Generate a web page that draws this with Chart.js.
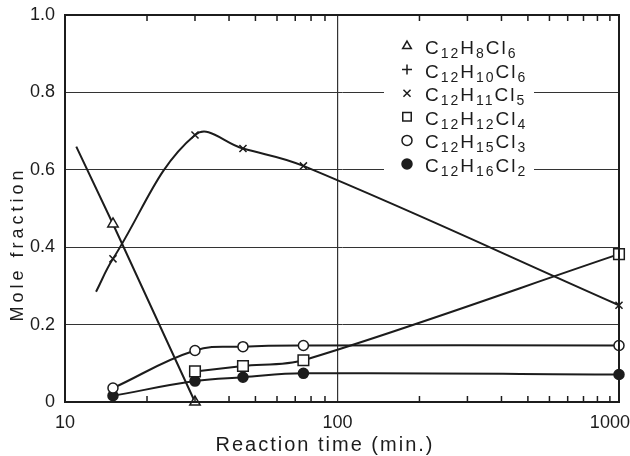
<!DOCTYPE html>
<html>
<head>
<meta charset="utf-8">
<script src="https://cdn.jsdelivr.net/npm/chart.js@4.4.1/dist/chart.umd.min.js"></script>
<style>
html, body { margin: 0; padding: 0; background: #fff; }
#wrap { width: 630px; height: 456px; }
</style>
</head>
<body>
<div id="wrap"><canvas id="chart"></canvas></div>
<script>
// reaction time (min.) per series
const timesTri = [11, 15, 30];
const timesX = [13, 15, 30, 45, 75, 1080];
const timesSq = [30, 45, 75, 1080];
const times = [15, 30, 45, 75, 1080];

// mole fractions
const c12h8cl6 = [0.66, 0.46, 0];
const c12h10cl6 = [];
const c12h11cl5 = [0.285, 0.37, 0.69, 0.655, 0.61, 0.25];
const c12h12cl4 = [0.079, 0.093, 0.108, 0.382];
const c12h15cl3 = [0.036, 0.133, 0.143, 0.146, 0.146];
const c12h16cl2 = [0.016, 0.054, 0.064, 0.074, 0.071];

const xTicks = [10, 100, 1000];
const minorTicks = [20, 30, 40, 50, 60, 70, 80, 90, 200, 300, 400, 500, 600, 700, 800, 900, 1000];
const yTicks = [0, 0.2, 0.4, 0.6, 0.8, 1.0];

const ink = '#1c1c1c';
const fontFam = '"Liberation Sans", Arial, sans-serif';

const pts = (xs, ys) => ys.map((y, i) => ({ x: xs[i], y: y }));

function series(label, data, style, radius, fill, tension) {
    return {
        label: label,
        data: data,
        borderColor: ink,
        borderWidth: 2,
        pointStyle: style,
        pointRadius: radius,
        pointBorderWidth: 1.5,
        pointBorderColor: ink,
        pointBackgroundColor: fill,
        tension: tension,
        clip: false
    };
}

// white patch behind the legend, legend with subscripts, frame, minor ticks, axis titles
const decorations = {
    id: 'decorations',
    beforeDatasetsDraw(chart) {
        const ctx = chart.ctx;
        ctx.save();
        ctx.fillStyle = '#fff';
        ctx.fillRect(384, 30, 150, 150);
        ctx.restore();
    },
    afterDraw(chart) {
        const ctx = chart.ctx;
        const area = chart.chartArea;
        const x = chart.scales.x;
        ctx.save();

        // frame
        ctx.strokeStyle = ink;
        ctx.lineWidth = 2;
        ctx.strokeRect(area.left, area.top, area.right - area.left, area.bottom - area.top);

        // minor ticks, inward, top and bottom
        ctx.lineWidth = 1.5;
        ctx.beginPath();
        minorTicks.forEach(v => {
            const px = x.getPixelForValue(v);
            ctx.moveTo(px, area.bottom);
            ctx.lineTo(px, area.bottom - 6);
            ctx.moveTo(px, area.top);
            ctx.lineTo(px, area.top + 6);
        });
        ctx.stroke();

        // legend
        chart.data.datasets.forEach((ds, i) => {
            const y = 46 + i * 23.6;
            ctx.fillStyle = ds.pointBackgroundColor;
            ctx.strokeStyle = ink;
            ctx.lineWidth = 1.5;
            Chart.helpers.drawPoint(ctx, {
                pointStyle: ds.pointStyle,
                radius: ds.pointStyle === 'rect' ? 6 : 5,
                borderWidth: 1.5
            }, 407, y);

            let tx = 425;
            ctx.fillStyle = ink;
            ctx.textAlign = 'left';
            ctx.textBaseline = 'alphabetic';
            ctx.letterSpacing = '2px';
            ds.label.match(/[A-Za-z]+|\d+/g).forEach(run => {
                const sub = /\d/.test(run);
                ctx.font = (sub ? '14px ' : '19px ') + fontFam;
                ctx.fillText(run, tx, y + (sub ? 12 : 8));
                tx += ctx.measureText(run).width;
            });
        });

        // axis titles
        ctx.fillStyle = ink;
        ctx.textAlign = 'center';
        ctx.textBaseline = 'middle';
        ctx.font = '20px ' + fontFam;
        ctx.letterSpacing = '2px';
        ctx.fillText('Reaction time (min.)', 325, 445);

        ctx.translate(18, 244);
        ctx.rotate(-Math.PI / 2);
        ctx.font = '18px ' + fontFam;
        ctx.letterSpacing = '4px';
        ctx.fillText('Mole fraction', 0, 0);
        ctx.restore();
    }
};

new Chart(document.getElementById('chart'), {
    type: 'line',
    data: {
        datasets: [
            series('C12H8Cl6', pts(timesTri, c12h8cl6), 'triangle', [0, 6, 6], '#fff', 0),
            series('C12H10Cl6', pts(times, c12h10cl6), 'cross', 5, '#fff', 0),
            series('C12H11Cl5', pts(timesX, c12h11cl5), 'crossRot', [0, 5, 5, 5, 5, 5], '#fff', 0.4),
            series('C12H12Cl4', pts(timesSq, c12h12cl4), 'rect', 7.5, '#fff', 0.3),
            series('C12H15Cl3', pts(times, c12h15cl3), 'circle', 5, '#fff', 0.4),
            series('C12H16Cl2', pts(times, c12h16cl2), 'circle', 5, ink, 0.4)
        ]
    },
    options: {
        responsive: true,
        maintainAspectRatio: false,
        animation: false,
        layout: { padding: { top: 15, right: 11, left: 0, bottom: 0 } },
        plugins: {
            legend: { display: false },
            tooltip: { enabled: false }
        },
        scales: {
            x: {
                type: 'logarithmic',
                min: 10,
                max: 1080,
                afterBuildTicks: s => { s.ticks = xTicks.map(v => ({ value: v })); },
                afterFit: s => { s.height = 54; s.paddingLeft = 0; s.paddingRight = 0; },
                grid: {
                    drawTicks: false,
                    color: c => c.tick && c.tick.value === 100 ? '#333' : 'rgba(0,0,0,0)',
                    lineWidth: 1.2
                },
                border: { color: ink, width: 2 },
                ticks: {
                    color: ink,
                    padding: 10,
                    maxRotation: 0,
                    font: { family: fontFam, size: 18 },
                    callback: v => String(v)
                }
            },
            y: {
                min: 0,
                max: 1,
                afterBuildTicks: s => { s.ticks = yTicks.map(v => ({ value: v })); },
                afterFit: s => { s.width = 65; s.paddingTop = 0; s.paddingBottom = 0; },
                grid: { drawTicks: false, color: '#333', lineWidth: 1 },
                border: { color: ink, width: 2 },
                ticks: {
                    color: ink,
                    padding: 10,
                    font: { family: fontFam, size: 18 },
                    callback: v => v === 0 ? '0' : v.toFixed(1)
                }
            }
        }
    },
    plugins: [decorations]
});
</script>
</body>
</html>
